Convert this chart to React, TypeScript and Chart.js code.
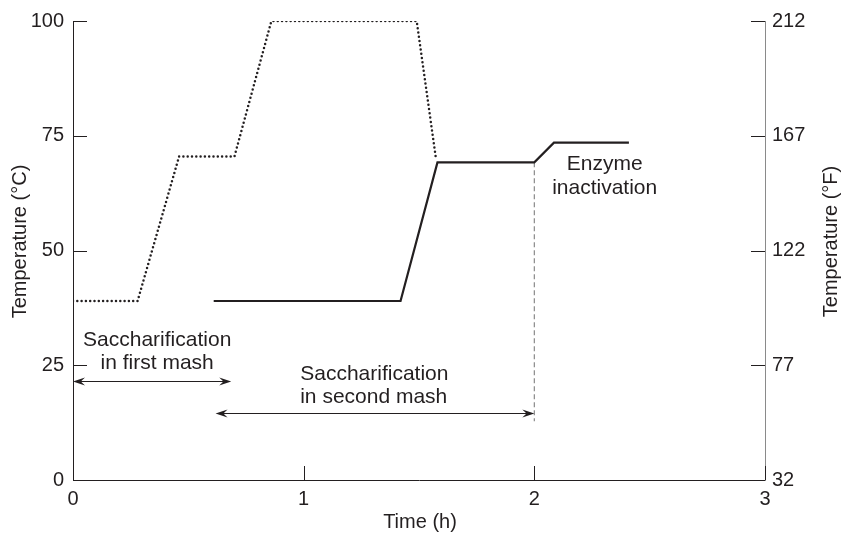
import React, { useEffect, useRef } from "react";
import { Chart, registerables } from "chart.js";

Chart.register(...registerables);

// ---- data ----
const timeTicks = [0, 1, 2, 3];
const celsiusRange = [0, 100];
const fahrenheitRange = [32, 212];
const celsiusStep = 25;
const fahrenheitStep = 45;

// First mash (dotted): time (h) and temperature (°C)
const firstMashTime = [0, 0.28, 0.46, 0.7, 0.86, 1.49, 1.573];
const firstMashTemp = [39, 39, 70.5, 70.5, 100, 100, 70.2];

// Second mash (solid)
const secondMashTime = [0.61, 1.42, 1.58, 2.0, 2.085, 2.41];
const secondMashTemp = [39, 39, 69.2, 69.2, 73.5, 73.5];

// Vertical dashed marker at end of saccharification
const markerTime = [2, 2];
const markerTemp = [69.2, 12.8];

// Double-headed arrows
const arrowStart = [0, 0.618];
const arrowEnd = [0.686, 2.0];
const arrowTemp = [21.6, 14.6];

// Annotation labels
const labelLines = [
  ["Saccharification", "in first mash"],
  ["Saccharification", "in second mash"],
  ["Enzyme", "inactivation"],
];
const labelTime = [0.365, 0.985, 2.305];
const labelTemp = [29.2, 21.8, 67.5];
const labelAlign = ["center", "left", "center"];

const INK = "#231f20";
const FONT = '"Liberation Sans", Arial, Helvetica, sans-serif';

const toPoints = (xs: number[], ys: number[]) => xs.map((x, i) => ({ x, y: ys[i] }));

const overlayPlugin = {
  id: "overlay",
  afterDatasetsDraw(chart: any) {
    const { ctx, chartArea: ca, scales } = chart;
    const x = scales.x;
    const y = scales.y;
    const y2 = scales.y2;
    ctx.save();

    // inward tick marks
    const T = 14;
    ctx.strokeStyle = INK;
    ctx.lineWidth = 1;
    ctx.beginPath();
    x.ticks.forEach((t: any) => {
      const px = Math.round(x.getPixelForValue(t.value)) + 0.5;
      ctx.moveTo(px, ca.bottom);
      ctx.lineTo(px, ca.bottom - T);
    });
    y.ticks.forEach((t: any) => {
      const py = Math.round(y.getPixelForValue(t.value)) + 0.5;
      ctx.moveTo(ca.left, py);
      ctx.lineTo(ca.left + T, py);
    });
    y2.ticks.forEach((t: any) => {
      const py = Math.round(y2.getPixelForValue(t.value)) + 0.5;
      ctx.moveTo(ca.right, py);
      ctx.lineTo(ca.right - T, py);
    });
    ctx.stroke();

    // arrows
    const head = (tx: number, ty: number, d: number) => {
      const L = 12;
      const W = 4;
      ctx.beginPath();
      ctx.moveTo(tx, ty);
      ctx.lineTo(tx - d * L, ty - W);
      ctx.lineTo(tx - d * L * 0.65, ty);
      ctx.lineTo(tx - d * L, ty + W);
      ctx.closePath();
      ctx.fill();
    };
    ctx.fillStyle = INK;
    arrowTemp.forEach((temp, i) => {
      const py = Math.round(y.getPixelForValue(temp)) + 0.5;
      const x0 = x.getPixelForValue(arrowStart[i]);
      const x1 = x.getPixelForValue(arrowEnd[i]);
      ctx.beginPath();
      ctx.moveTo(x0 + 4, py);
      ctx.lineTo(x1 - 4, py);
      ctx.stroke();
      head(x0, py, -1);
      head(x1, py, 1);
    });

    // labels
    ctx.font = `21px ${FONT}`;
    ctx.textBaseline = "alphabetic";
    labelLines.forEach((lines, i) => {
      const px = x.getPixelForValue(labelTime[i]);
      const py = y.getPixelForValue(labelTemp[i]);
      ctx.textAlign = labelAlign[i];
      lines.forEach((line, j) => ctx.fillText(line, px, py + j * 23.5));
    });

    // axis titles
    ctx.font = `20px ${FONT}`;
    ctx.textAlign = "center";
    ctx.textBaseline = "middle";
    const midY = (ca.top + ca.bottom) / 2 - 9;
    ctx.save();
    ctx.translate(ca.left - 53, midY);
    ctx.rotate(-Math.PI / 2);
    ctx.fillText("Temperature (°C)", 0, 0);
    ctx.restore();
    ctx.save();
    ctx.translate(ca.right + 66, midY);
    ctx.rotate(-Math.PI / 2);
    ctx.fillText("Temperature (°F)", 0, 0);
    ctx.restore();
    ctx.textBaseline = "alphabetic";
    ctx.fillText("Time (h)", (ca.left + ca.right) / 2 + 1, ca.bottom + 48);

    ctx.restore();
  },
};

export default function App() {
  const ref = useRef<HTMLCanvasElement | null>(null);

  useEffect(() => {
    if (!ref.current) return;
    const chart = new Chart(ref.current, {
      type: "line",
      data: {
        datasets: [
          {
            label: "First mash",
            data: toPoints(firstMashTime, firstMashTemp),
            borderColor: INK,
            borderWidth: 2.5,
            borderDash: [0, 4.3],
            borderCapStyle: "round",
            pointRadius: 0,
            tension: 0,
            fill: false,
          },
          {
            label: "Second mash",
            data: toPoints(secondMashTime, secondMashTemp),
            borderColor: INK,
            borderWidth: 2.2,
            pointRadius: 0,
            tension: 0,
            fill: false,
          },
          {
            label: "Marker",
            data: toPoints(markerTime, markerTemp),
            borderColor: "#8a8a8a",
            borderWidth: 1.2,
            borderDash: [5, 3],
            pointRadius: 0,
            fill: false,
          },
        ],
      },
      options: {
        responsive: false,
        animation: false,
        devicePixelRatio: 1,
        layout: { padding: { top: 17, left: 0, right: 0, bottom: 0 } },
        plugins: {
          legend: { display: false },
          tooltip: { enabled: false },
          title: { display: false },
        },
        font: { family: FONT },
        scales: {
          x: {
            type: "linear",
            min: timeTicks[0],
            max: timeTicks[timeTicks.length - 1],
            afterBuildTicks: (s: any) => {
              s.ticks = timeTicks.map((v) => ({ value: v }));
            },
            ticks: { color: INK, font: { family: FONT, size: 20 }, padding: 7, maxRotation: 0 },
            grid: { display: false, drawTicks: false },
            border: { display: true, color: INK, width: 1 },
            afterFit: (s: any) => {
              s.height = 55;
            },
          },
          y: {
            type: "linear",
            position: "left",
            min: celsiusRange[0],
            max: celsiusRange[1],
            ticks: { stepSize: celsiusStep, color: INK, font: { family: FONT, size: 20 }, padding: 9 },
            grid: { display: false, drawTicks: false },
            border: { display: true, color: INK, width: 1 },
            afterFit: (s: any) => {
              s.width = 73;
            },
          },
          y2: {
            type: "linear",
            position: "right",
            min: fahrenheitRange[0],
            max: fahrenheitRange[1],
            ticks: { stepSize: fahrenheitStep, color: INK, font: { family: FONT, size: 20 }, padding: 7 },
            grid: { display: false, drawTicks: false },
            border: { display: true, color: "#8a8a8a", width: 1 },
            afterFit: (s: any) => {
              s.width = 87;
            },
          },
        },
      } as any,
      plugins: [overlayPlugin as any],
    });
    return () => chart.destroy();
  }, []);

  return (
    <div style={{ position: "fixed", left: 0, top: 0, width: 852, height: 535, background: "#fff" }}>
      <canvas ref={ref} width={852} height={535} />
    </div>
  );
}
